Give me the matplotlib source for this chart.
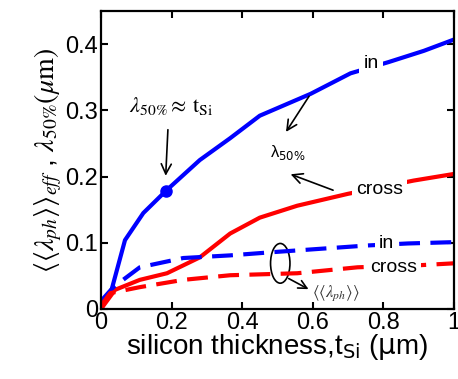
import numpy as np
import matplotlib
matplotlib.use("Agg")
import matplotlib.pyplot as plt
from matplotlib.patches import Ellipse

plt.rcParams['font.family'] = ['Liberation Sans', 'DejaVu Sans']
plt.rcParams['mathtext.fontset'] = 'stix'

# lambda_50% curves (solid)
x_in50 = [0, 0.03, 0.068, 0.12, 0.185, 0.28, 0.366, 0.45, 0.594, 0.707, 0.815, 0.915, 1.0]
y_in50 = [0, 0.029, 0.104, 0.145, 0.179, 0.225, 0.258, 0.292, 0.325, 0.356, 0.373, 0.39, 0.407]
x_cr50 = [0, 0.04, 0.11, 0.187, 0.28, 0.366, 0.45, 0.556, 0.70, 0.886, 1.0]
y_cr50 = [0, 0.029, 0.044, 0.054, 0.078, 0.114, 0.138, 0.156, 0.174, 0.194, 0.204]
# <<lambda_ph>> curves (dashed)
x_inph = [0, 0.035, 0.11, 0.233, 0.366, 0.49, 0.756, 0.87, 1.0]
y_inph = [0.012, 0.033, 0.063, 0.077, 0.081, 0.086, 0.096, 0.099, 0.101]
x_crph = [0, 0.026, 0.11, 0.233, 0.366, 0.556, 0.727, 0.898, 1.0]
y_crph = [0.005, 0.024, 0.033, 0.044, 0.051, 0.054, 0.063, 0.066, 0.069]
dot_x, dot_y = 0.185, 0.179

fig = plt.figure(figsize=(4.58, 3.79), dpi=100)
ax = fig.add_axes([0.2205, 0.1847, 0.7705, 0.786])

blue = '#0000ff'
red = '#ff0000'
ax.plot(x_in50, y_in50, color=blue, lw=3)
ax.plot(x_cr50, y_cr50, color=red, lw=3)
ax.plot(x_inph, y_inph, color=blue, lw=3, dashes=(5, 2.5))
ax.plot(x_crph, y_crph, color=red, lw=3, dashes=(5, 2.5))
ax.plot(dot_x, dot_y, 'o', color=blue, ms=8)

# white boxes behind curve labels
bb = dict(facecolor='white', edgecolor='none', pad=3)
ax.text(0.765, 0.371, 'in', fontsize=14, ha='center', va='center', bbox=bb)
ax.text(0.79, 0.181, 'cross', fontsize=14, ha='center', va='center', bbox=bb)
ax.text(0.81, 0.099, 'in', fontsize=14, ha='center', va='center', bbox=bb)
ax.text(0.83, 0.062, 'cross', fontsize=14, ha='center', va='center', bbox=bb)

ax.text(0.53, 0.236, r'λ$_{50\%}$', fontsize=12, ha='center', va='center',
        math_fontfamily='dejavusans')
ax.annotate('', xy=(0.52, 0.264), xytext=(0.594, 0.325),
            arrowprops=dict(arrowstyle='->', color='black', lw=1.2, mutation_scale=18))
ax.annotate('', xy=(0.53, 0.205), xytext=(0.665, 0.178),
            arrowprops=dict(arrowstyle='->', color='black', lw=1.2, mutation_scale=18))
ax.text(0.2, 0.307, r'$\lambda_{50\%}\approx\,\mathrm{t_{Si}}$', fontsize=16,
        ha='center', va='center')
ax.annotate('', xy=(0.183, 0.197), xytext=(0.19, 0.275),
            arrowprops=dict(arrowstyle='->', color='black', lw=1.2, mutation_scale=18))

ax.add_patch(Ellipse((0.508, 0.069), 0.055, 0.06, fill=False, ec='black', lw=1.2))
ax.annotate('', xy=(0.595, 0.028), xytext=(0.525, 0.048),
            arrowprops=dict(arrowstyle='->', color='black', lw=1.2, mutation_scale=15))
ax.text(0.665, 0.024, r'$\langle\langle\lambda_{ph}\rangle\rangle$', fontsize=12,
        ha='center', va='center', color='#333333')

ax.set_xlim(0, 1)
ax.set_ylim(0, 0.45)
ax.set_xticks([0, 0.2, 0.4, 0.6, 0.8, 1])
ax.set_xticklabels(['0', '0.2', '0.4', '0.6', '0.8', '1'])
ax.set_yticks([0, 0.1, 0.2, 0.3, 0.4])
ax.set_yticklabels(['0', '0.1', '0.2', '0.3', '0.4'])
ax.tick_params(direction='in', top=True, right=True, labelsize=17, length=5, width=1.5, pad=2)
for s in ax.spines.values():
    s.set_linewidth(1.6)

ax.set_xlabel(r'silicon thickness,t$_{\mathsf{Si}}$ ($\mathsf{\mu}$m)', fontsize=20, labelpad=-1,
              math_fontfamily='dejavusans')
ax.set_ylabel(r'$\left\langle\left\langle\lambda_{ph}\right\rangle\right\rangle_{eff}$ , $\lambda_{50\%}(\mu \mathrm{m})$',
              fontsize=20, labelpad=1)

fig.savefig('out.png', dpi=100)
